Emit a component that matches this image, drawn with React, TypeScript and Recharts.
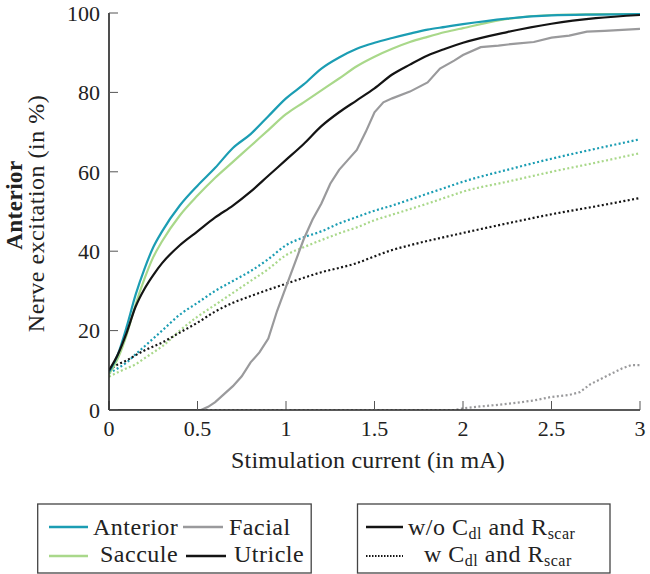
import React from 'react';
import { LineChart, Line, XAxis, YAxis, Legend } from 'recharts';

// ---------- data ----------
const xGrid = [0, 0.05, 0.1, 0.15, 0.2, 0.25, 0.3, 0.4, 0.5, 0.6, 0.7, 0.8, 0.9, 1.0, 1.1, 1.2, 1.3, 1.4, 1.5, 1.6, 1.7, 1.8, 1.9, 2.0, 2.25, 2.5, 2.75, 3.0];

const anteriorWithout = [9.5, 14, 21, 29, 35.5, 41, 45, 51.5, 56.5, 61, 66, 69.5, 74, 78.5, 82, 86, 88.8, 91, 92.5, 93.7, 94.8, 95.8, 96.5, 97.2, 98.6, 99.4, 99.6, 99.7];
const sacculeWithout = [9, 13, 19, 26.5, 33, 38.5, 42.5, 49, 54, 58.5, 62.5, 66.5, 70.5, 74.5, 77.5, 80.5, 83.5, 86.6, 89, 91, 92.7, 94, 95.2, 96.2, 98.5, 99.5, 99.7, 99.8];
const utricleWithout = [10, 14, 19.5, 26, 30.5, 34, 37, 41.5, 45, 48.5, 51.5, 55, 59, 63, 67, 71.5, 75, 78, 81, 84.5, 87, 89.3, 91, 92.5, 95.2, 97.3, 98.7, 99.5];

const anteriorWith = [9.3, 10.5, 12, 14, 16, 18, 20, 24, 27, 30, 32.5, 35, 38, 41.5, 43.5, 45, 47, 48.6, 50.2, 51.5, 53, 54.5, 56, 57.5, 60.5, 63.3, 65.8, 68.2];
const sacculeWith = [8.4, 9.5, 10.5, 11.5, 13, 14.5, 16, 20, 23.5, 26.5, 29.5, 32.5, 35.5, 39, 41, 42.8, 44.5, 46, 47.8, 49.2, 50.6, 52, 53.5, 55, 57.5, 60, 62.3, 64.7];
const utricleWith = [10, 11.5, 12.5, 13.8, 15, 16, 17, 19.5, 22, 24.8, 27, 28.7, 30.3, 31.8, 33.3, 34.7, 35.8, 37, 38.7, 40.3, 41.5, 42.6, 43.6, 44.6, 47, 49.3, 51.3, 53.4];

const facialX = [0, 0.52, 0.56, 0.6, 0.65, 0.7, 0.75, 0.8, 0.85, 0.9, 0.95, 1.0, 1.05, 1.1, 1.15, 1.2, 1.25, 1.3, 1.35, 1.4, 1.45, 1.5, 1.55, 1.6, 1.7, 1.8, 1.87, 1.95, 2.0, 2.1, 2.2, 2.3, 2.4, 2.5, 2.6, 2.7, 2.8, 3.0];
const facialWithout = [0, 0, 0.8, 2, 4, 6, 8.5, 12, 14.5, 18, 25, 31, 37, 43, 48, 52, 57, 60.5, 63, 65.5, 70, 75, 77.5, 78.5, 80.2, 82.5, 86, 88, 89.4, 91.4, 91.8, 92.3, 92.7, 93.8, 94.3, 95.3, 95.5, 96];

const facialDottedX = [0, 1.95, 2.0, 2.1, 2.2, 2.3, 2.4, 2.5, 2.6, 2.66, 2.72, 2.8, 2.9, 2.95, 3.0];
const facialWith = [0, 0, 0.4, 0.9, 1.3, 1.8, 2.4, 3.3, 3.8, 4.5, 6.5, 8.3, 10.5, 11.3, 11.3];

const xTicks = [0, 0.5, 1, 1.5, 2, 2.5, 3];
const yTicks = [0, 20, 40, 60, 80, 100];

// ---------- styles ----------
const TEAL = '#1b9db3';
const GREEN = '#a9d88a';
const GRAY = '#9a9a9c';
const BLACK = '#141414';
const FONT = "Liberation Serif, DejaVu Serif, serif";

const pts = (xs: number[], ys: number[]) => xs.map((x, i) => ({ x, y: ys[i] }));

const series = [
  { id: 'facialWith', data: pts(facialDottedX, facialWith), color: GRAY, dotted: true, type: 'linear' },
  { id: 'anteriorWith', data: pts(xGrid, anteriorWith), color: TEAL, dotted: true, type: 'monotone' },
  { id: 'sacculeWith', data: pts(xGrid, sacculeWith), color: GREEN, dotted: true, type: 'monotone' },
  { id: 'utricleWith', data: pts(xGrid, utricleWith), color: BLACK, dotted: true, type: 'monotone' },
  { id: 'facialWithout', data: pts(facialX, facialWithout), color: GRAY, dotted: false, type: 'linear' },
  { id: 'sacculeWithout', data: pts(xGrid, sacculeWithout), color: GREEN, dotted: false, type: 'monotone' },
  { id: 'anteriorWithout', data: pts(xGrid, anteriorWithout), color: TEAL, dotted: false, type: 'monotone' },
  { id: 'utricleWithout', data: pts(xGrid, utricleWithout), color: BLACK, dotted: false, type: 'monotone' },
];

const txt = (size: number, extra: any = {}) => ({ style: { fontFamily: FONT, fontSize: size, letterSpacing: 0.5, ...extra }, fill: '#222' });

const XTitle = () => (
  <text x={368} y={468} textAnchor="middle" {...txt(24, { letterSpacing: 0.2 })}>
    Stimulation current (in mA)
  </text>
);

const YTitle = () => (
  <g>
    <text x={22} y={205} transform="rotate(-90 22 205)" textAnchor="middle" {...txt(23, { fontWeight: 'bold' })}>
      Anterior
    </text>
    <text x={44} y={213.5} transform="rotate(-90 44 213.5)" textAnchor="middle" {...txt(24)}>
      Nerve excitation (in %)
    </text>
  </g>
);

const LegendBoxes = () => {
  const t = txt(24);
  return (
    <svg width={650} height={574} style={{ position: 'absolute', left: 0, top: 0 }}>
      <rect x={37.7} y={504} width={273.5} height={69} fill="none" stroke="#444" strokeWidth={1.3} />
      <rect x={357.5} y={504} width={252.5} height={69} fill="none" stroke="#444" strokeWidth={1.3} />
      <line x1={49} x2={88} y1={527} y2={527} stroke={TEAL} strokeWidth={2.5} />
      <text x={93} y={534.5} {...t}>Anterior</text>
      <line x1={183} x2={223} y1={527} y2={527} stroke={GRAY} strokeWidth={2.5} />
      <text x={229} y={534.5} {...t}>Facial</text>
      <line x1={49} x2={88} y1={556} y2={556} stroke={GREEN} strokeWidth={2.5} />
      <text x={100} y={562} {...t}>Saccule</text>
      <line x1={186} x2={226} y1={556} y2={556} stroke={BLACK} strokeWidth={2.5} />
      <text x={234} y={562} {...t}>Utricle</text>
      <line x1={366} x2={403} y1={527} y2={527} stroke={BLACK} strokeWidth={2.5} />
      <text x={408} y={534.5} {...t}>
        w/o C<tspan style={{ fontSize: 16 }} dy={4}>dl</tspan>
        <tspan dy={-4}> and R</tspan>
        <tspan style={{ fontSize: 16 }} dy={4}>scar</tspan>
      </text>
      <line x1={366} x2={403} y1={556} y2={556} stroke={BLACK} strokeWidth={1.8} strokeDasharray="1.5 1.5" />
      <text x={424} y={562} {...t}>
        w C<tspan style={{ fontSize: 16 }} dy={4}>dl</tspan>
        <tspan dy={-4}> and R</tspan>
        <tspan style={{ fontSize: 16 }} dy={4}>scar</tspan>
      </text>
    </svg>
  );
};

export default function App() {
  return (
    <div style={{ position: 'absolute', left: 0, top: 0, width: 650, height: 574, background: '#fff', fontFamily: FONT }}>
      <LineChart width={650} height={574} margin={{ top: 13, right: 10, bottom: 104, left: 49 }} style={{ fontFamily: FONT }}>
        {series.map((s) => (
          <Line
            key={s.id}
            data={s.data}
            dataKey="y"
            type={s.type as any}
            stroke={s.color}
            strokeWidth={2.2}
            strokeDasharray={s.dotted ? '2 2.4' : undefined}
            dot={false}
            activeDot={false}
            isAnimationActive={false}
          />
        ))}
        <XAxis
          dataKey="x"
          type="number"
          domain={[0, 3]}
          ticks={xTicks}
          interval={0}
          height={60}
          allowDataOverflow
          tickSize={-9}
          tickMargin={19}
          axisLine={{ stroke: '#222', strokeWidth: 1.6 }}
          tickLine={{ stroke: '#555', strokeWidth: 1 }}
          tick={{ fontFamily: FONT, fontSize: 22, fill: '#222', style: { fontFamily: FONT } }}
          label={<XTitle />}
        />
        <YAxis
          type="number"
          domain={[0, 100]}
          ticks={yTicks}
          interval={0}
          width={60}
          allowDataOverflow
          tickSize={-9}
          tickMargin={18}
          axisLine={{ stroke: '#222', strokeWidth: 1.6 }}
          tickLine={{ stroke: '#555', strokeWidth: 1 }}
          tick={{ fontFamily: FONT, fontSize: 22, fill: '#222', style: { fontFamily: FONT } }}
          label={<YTitle />}
        />
        <Legend
          layout="horizontal"
          verticalAlign="middle"
          align="center"
          wrapperStyle={{ left: 0, top: 0, width: 650, height: 574, pointerEvents: 'none' }}
          content={() => <LegendBoxes />}
        />
      </LineChart>
    </div>
  );
}
